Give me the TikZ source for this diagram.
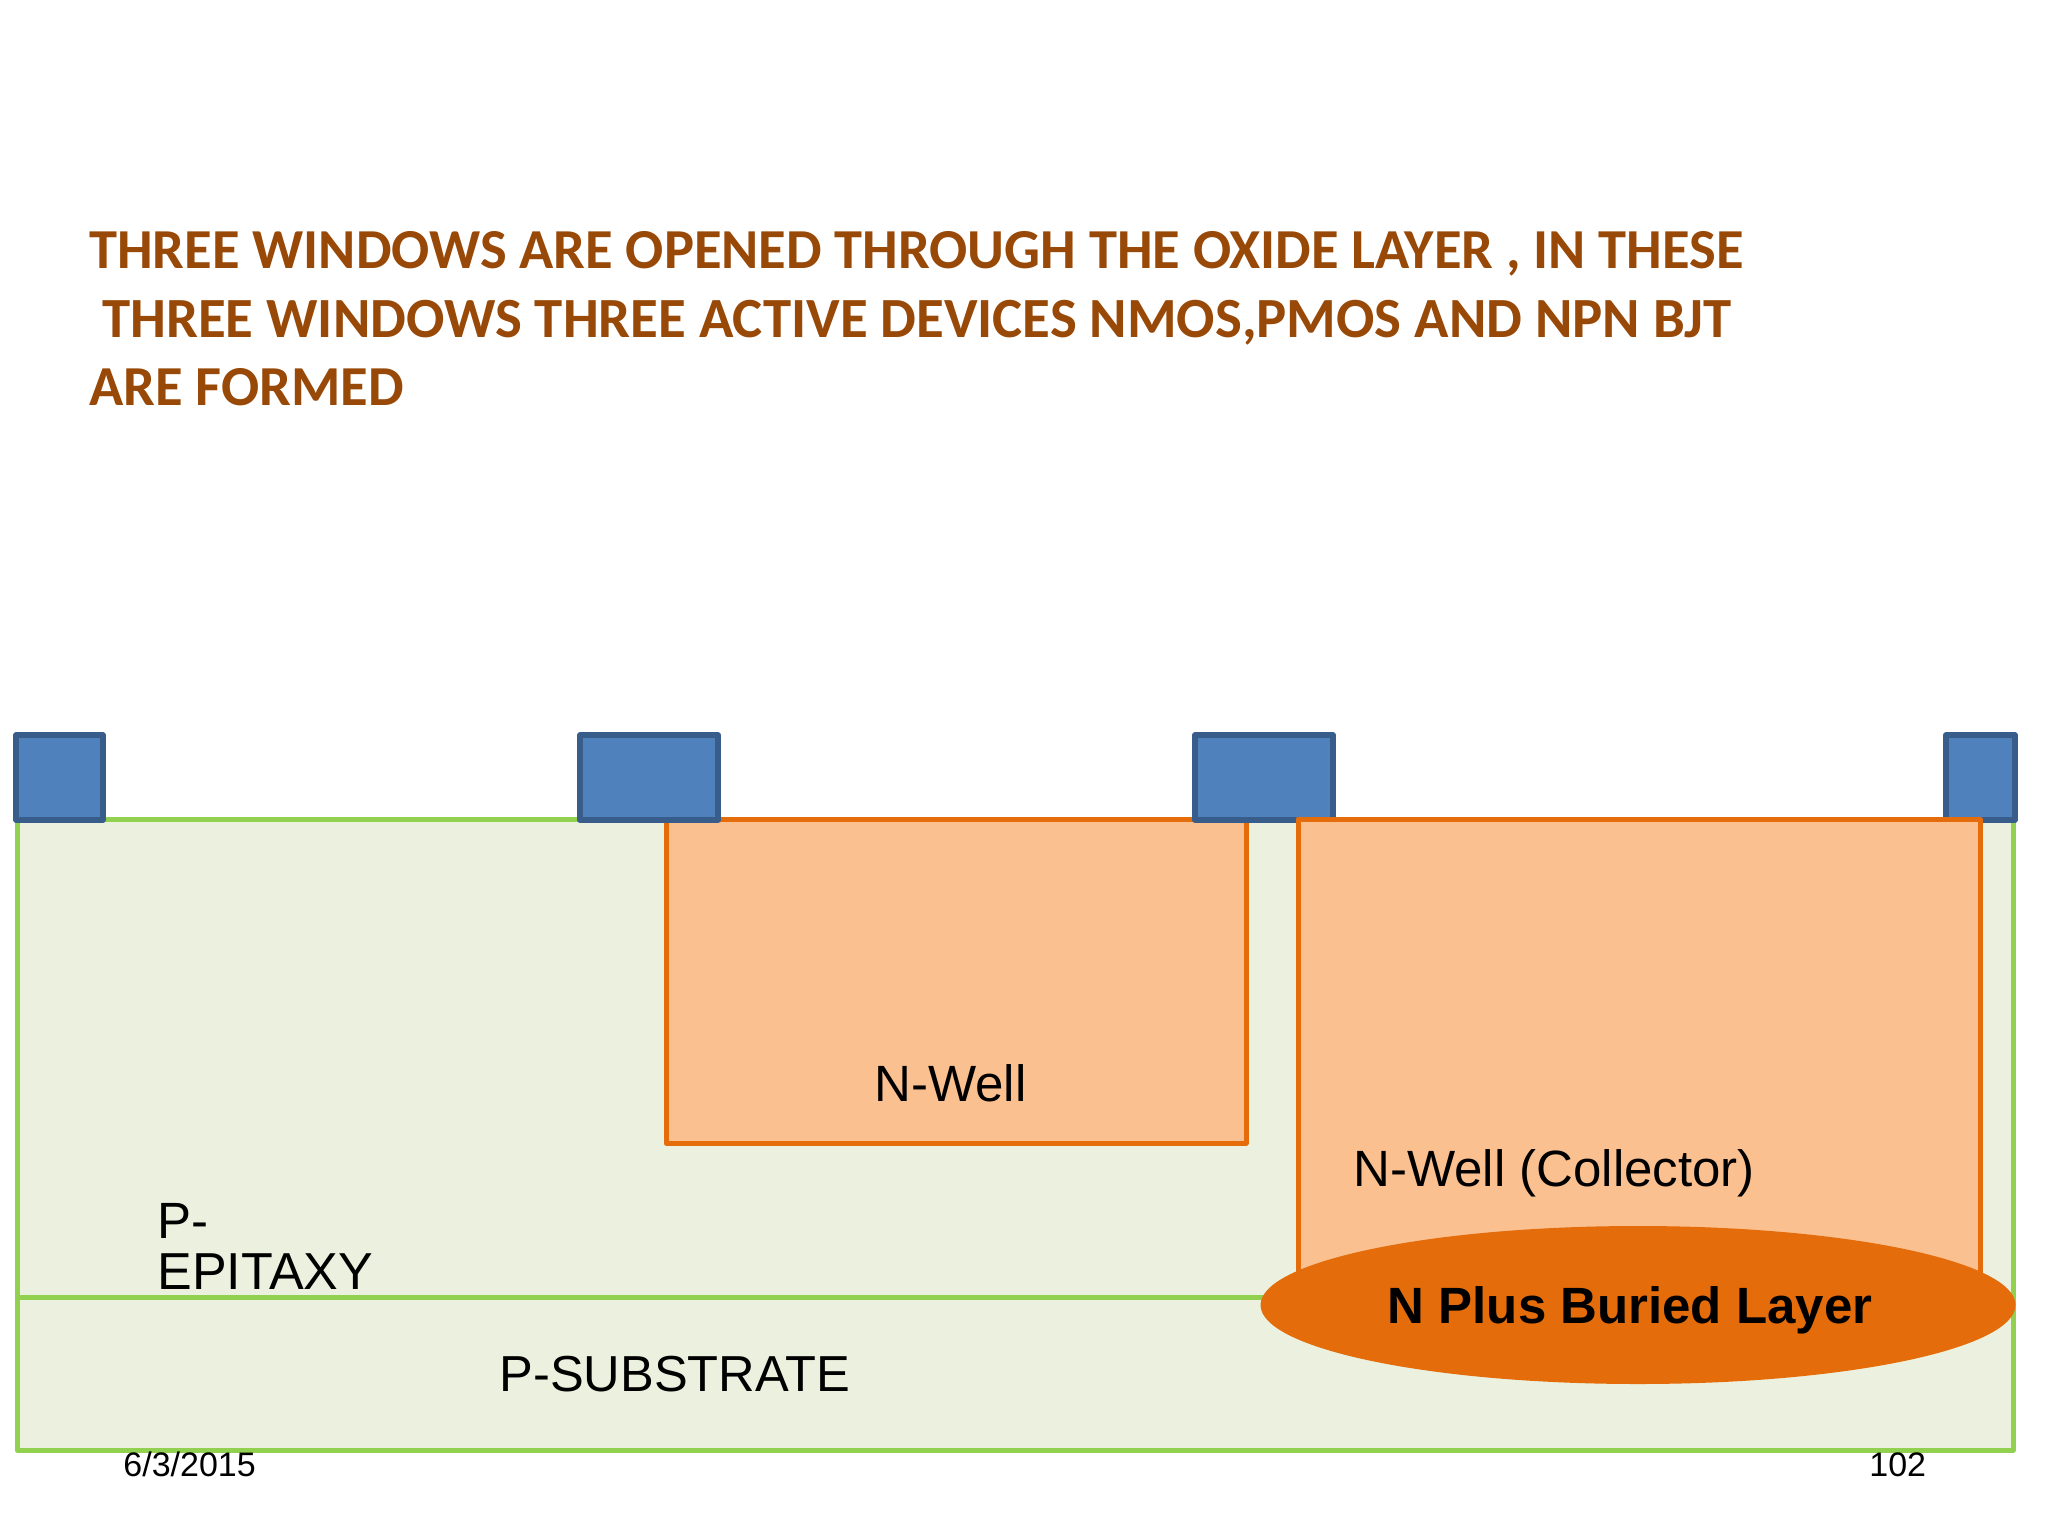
\documentclass[tikz,border=0pt]{standalone}
\usepackage{fontspec}
\setmainfont{Liberation Sans}
\newfontfamily\TitleFont{Carlito}
\usepackage{xcolor}
\definecolor{ColOxide}{RGB}{79,129,189}
\definecolor{ColOxideLine}{RGB}{56,93,138}
\definecolor{ColEpi}{RGB}{235,241,222}
\definecolor{ColEpiLine}{RGB}{146,208,80}
\definecolor{ColWell}{RGB}{250,192,144}
\definecolor{ColWellLine}{RGB}{228,108,10}
\definecolor{ColTitle}{RGB}{152,72,7}
\tikzstyle{Oxide}=[draw=ColOxideLine,fill=ColOxide,line width=2.6pt,line join=round]
\tikzstyle{Layer}=[draw=ColEpiLine,fill=ColEpi,line width=2.5pt,line join=round]
\tikzstyle{Well}=[draw=ColWellLine,fill=ColWell,line width=2.5pt,line join=round]
\tikzstyle{Buried}=[ellipse,fill=ColWellLine,inner sep=0pt,minimum width=377.5pt,minimum height=79pt]
\tikzstyle{NodeLabel}=[inner sep=0pt,anchor=base west,font=\fontsize{25.5}{25.5}\selectfont]
\tikzstyle{NodeFoot}=[inner sep=0pt,anchor=base west,font=\fontsize{17}{17}\selectfont]
\usetikzlibrary{shapes.geometric}

\begin{document}
\begin{tikzpicture}[x=0.5pt,y=-0.5pt]
        \useasboundingbox(0,0)rectangle(2048,1536);
        \node[inner sep=0pt,anchor=north west,align=left,text=ColTitle,
            font=\TitleFont\bfseries\fontsize{28.24}{34.3}\selectfont](title)at(89,231)
            {THREE WINDOWS ARE OPENED THROUGH THE OXIDE LAYER , IN THESE\\
            \fontsize{28.4}{34.3}\selectfont
            ~THREE WINDOWS THREE ACTIVE DEVICES NMOS,PMOS AND NPN BJT\\
            ARE FORMED};
        \draw[Layer](17,819)rectangle(2013,1297);
        \draw[Layer](17,1297)rectangle(2013,1450);
        \draw[Well](666,819)rectangle(1246,1143);
        \draw[Oxide](16,735)rectangle(103,820);
        \draw[Oxide](580,735)rectangle(718,820);
        \draw[Oxide](1195,735)rectangle(1333,820);
        \draw[Oxide](1946,735)rectangle(2015,820);
        \draw[Well](1298,819)rectangle(1980,1300);
        \node[Buried](buried)at(1638,1305){};
        \node[inner sep=0pt,font=\bfseries\fontsize{25.5}{25.5}\selectfont]
            (buriedtext)at(1630,1310){N Plus Buried Layer};
        \node[NodeLabel](well)at(874,1101){N-Well};
        \node[NodeLabel](collector)at(1353,1186){N-Well (Collector)};
        \node[NodeLabel](pminus)at(157,1238){P-};
        \node[NodeLabel,font=\fontsize{26}{26}\selectfont](epitaxy)at(157,1289){EPITAXY};
        \node[NodeLabel,font=\fontsize{25.3}{25.3}\selectfont](substrate)at(499,1391){P-SUBSTRATE};
        \node[NodeFoot](date)at(123,1476.5){6/3/2015};
        \node[NodeFoot](page)at(1869,1476.5){102};
    \end{tikzpicture}
\end{document}
